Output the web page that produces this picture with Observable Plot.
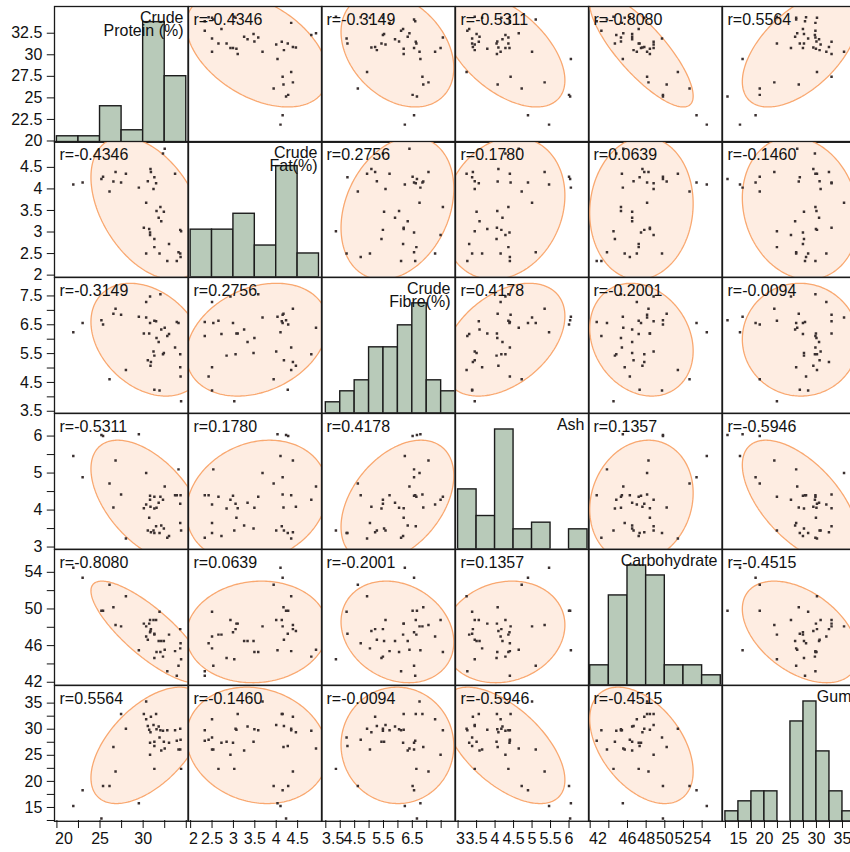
<!DOCTYPE html>
<html><head><meta charset="utf-8">
<script src="https://cdn.jsdelivr.net/npm/d3@7"></script>
<script src="https://cdn.jsdelivr.net/npm/@observablehq/plot@0.6"></script>
<style>
body{margin:0;background:#fff;}
#chart{position:relative;width:850px;height:852px;overflow:hidden;background:#fff;font-family:"Liberation Sans",Arial,sans-serif;}
#chart svg{position:absolute;overflow:visible;}
</style></head><body><div id="chart"></div>
<script>
// ---- data ----
const names = ["Crude\nProtein (%)", "Crude\nFat(%)", "Crude\nFibre(%)", "Ash", "Carbohydrate", "Gum"];

const protein = [21.9, 22.98, 25.16, 25.35, 26.1, 26.55, 26.8, 27.44, 28.0, 29.5,
  30.08, 30.35, 30.35, 30.54, 30.7, 30.8, 30.8, 30.85, 30.9, 31.2, 31.3, 31.3, 31.3, 31.5, 31.55,
  31.8, 31.9, 32.0, 32.1, 32.3, 32.4, 32.5, 32.8, 33.0, 33.7, 33.9, 34.1, 34.3, 34.34, 34.3, 34.4];
const fat = [4.10, 4.15, 4.23, 4.28, 3.94, 4.17, 4.39, 4.15, 4.35, 4.03,
  3.1, 3.68, 2.5, 4.18, 3.07, 2.99, 2.93, 4.46, 4.39, 4.0, 2.84, 4.27, 2.65, 4.13, 3.49,
  3.33, 2.5, 3.58, 3.25, 4.82, 3.47, 4.93, 2.33, 2.72, 4.35, 2.33, 2.53, 3.05, 2.42, 2.5, 3.02];
const fibre = [6.24, 6.56, 6.66, 6.51, 4.61, 6.88, 7.06, 6.85, 4.93, 6.78,
  6.2, 6.75, 7.29, 5.27, 6.2, 6.56, 7.48, 5.08, 5.21, 5.57, 5.43, 4.25, 6.64, 6.62, 6.04,
  5.9, 4.22, 7.56, 6.34, 5.48, 5.52, 6.4, 6.11, 6.18, 5.71, 6.6, 6.56, 5.48, 4.71, 5.03, 3.85];
const ash = [5.46, 4.89, 6.03, 6.0, 4.72, 4.07, 5.34, 4.42, 3.23, 6.05,
  4.05, 5.0, 4.15, 3.45, 3.79, 4.39, 4.28, 4.09, 3.4, 3.45, 4.04, 3.38, 4.36, 3.56, 4.06,
  4.2, 3.38, 4.36, 3.58, 4.28, 3.5, 4.64, 3.25, 3.3, 4.4, 4.4, 5.1, 4.17, 4.4, 3.65, 3.45];
const carb = [54.5, 53.4, 49.8, 49.8, 52.65, 50.2, 48.25, 48.1, 51.4, 45.5,
  48.4, 48.1, 47.0, 46.65, 48.4, 47.45, 48.8, 47.6, 47.8, 48.8, 44.65, 47.3, 47.2, 48.8, 45.3,
  46.5, 49.7, 45.3, 46.5, 44.8, 46.5, 45.55, 43.2, 47.2, 45.4, 42.7, 43.8, 47.8, 46.25, 45.7, 44.5];
const gum = [15.3, 18.3, 12.9, 19.1, 19.1, 26.6, 21.9, 32.9, 30.1, 15.8,
  32.9, 35.3, 31.9, 30.6, 29.9, 27.4, 25.1, 29.4, 32.4, 30.8, 27.6, 26.8, 22.4, 32.9, 30.0,
  30.5, 28.4, 29.8, 25.9, 29.7, 27.6, 26.3, 29.8, 27.4, 29.8, 27.8, 26.1, 30.1, 28.0, 26.1, 22.4];

// correlations shown in the cells, upper triangle row by row
const rUpper = [-0.4346, -0.3149, -0.5311, -0.8080, 0.5564,
  0.2756, 0.1780, 0.0639, -0.1460,
  0.4178, -0.2001, -0.0094,
  0.1357, -0.5946,
  -0.4515];

// histogram bins (edges) and bar heights (counts)
const proteinEdges = [20, 22.5, 25, 27.5, 30, 32.5, 35];
const proteinCounts = [1, 1, 6, 2, 20, 11];
const fatEdges = [2, 2.5, 3, 3.5, 4, 4.5, 5];
const fatCounts = [6, 6, 8, 4, 14, 3];
const fibreEdges = [3.5, 4, 4.5, 5, 5.5, 6, 6.5, 7, 7.5, 8];
const fibreCounts = [1, 2, 3, 6, 6, 8, 10, 3, 2];
const ashEdges = [3, 3.5, 4, 4.5, 5, 5.5, 6, 6.5];
const ashCounts = [9, 5, 18, 3, 4, 0, 3];
const carbEdges = [42, 44, 46, 48, 50, 52, 54, 56];
const carbCounts = [2, 9, 12, 11, 2, 2, 1];
const gumEdges = [12.5, 15, 17.5, 20, 22.5, 25, 27.5, 30, 32.5, 35, 37.5];
const gumCounts = [1, 2, 3, 3, 0, 10, 12, 7, 3, 1];

// axis ticks and labels
const yTicks = [
  [20, 22.5, 25, 27.5, 30, 32.5],
  [2, 2.5, 3, 3.5, 4, 4.5],
  [3.5, 4, 4.5, 5, 5.5, 6, 6.5, 7, 7.5],
  [3, 3.5, 4, 4.5, 5, 5.5, 6],
  [42, 44, 46, 48, 50, 52, 54],
  [12.5, 15, 17.5, 20, 22.5, 25, 27.5, 30, 32.5, 35]];
const yLabels = [
  [20, 22.5, 25, 27.5, 30, 32.5],
  [2, 2.5, 3, 3.5, 4, 4.5],
  [3.5, 4.5, 5.5, 6.5, 7.5],
  [3, 4, 5, 6],
  [42, 46, 50, 54],
  [15, 20, 25, 30, 35]];
const xTicks = [
  [20, 22.5, 25, 27.5, 30, 32.5, 35],
  [2, 2.5, 3, 3.5, 4, 4.5],
  [3.5, 4, 4.5, 5, 5.5, 6, 6.5, 7, 7.5],
  [3, 3.5, 4, 4.5, 5, 5.5, 6],
  [42, 44, 46, 48, 50, 52, 54],
  [12.5, 15, 17.5, 20, 22.5, 25, 27.5, 30, 32.5, 35]];
const xLabels = [
  [20, 25, 30],
  [2, 2.5, 3, 3.5, 4, 4.5],
  [3.5, 4.5, 5.5, 6.5],
  [3, 3.5, 4, 4.5, 5, 5.5, 6],
  [42, 46, 48, 50, 52, 54],
  [15, 20, 25, 30, 35]];

// ---- layout / scale settings ----
const X0 = 54.3, Y0 = 5.5, CW = 133.5, CH = 135.8, ML = 54.3, MB = 32;
const xDomains = [[19.72, 35.2], [1.95, 5.07], [3.35, 7.98], [2.93, 6.54], [41.82, 56.13], [11.94, 37.6]];
const yDomains = [[19.85, 35.6], [1.95, 5.1], [3.43, 8.14], [2.94, 6.61], [41.67, 56.49], [12.35, 38.38]];
const countDomains = [[0, 22.6], [0, 17.1], [0, 12.35], [0, 20.4], [0, 13.6], [0, 13.6]];
const ELLIPSE_LEVEL = 0.9;

const vars = [protein, fat, fibre, ash, carb, gum];
const edges = [proteinEdges, fatEdges, fibreEdges, ashEdges, carbEdges, gumEdges];
const counts = [proteinCounts, fatCounts, fibreCounts, ashCounts, carbCounts, gumCounts];
const R = Array.from({length: 6}, () => Array(6).fill(null));
{ let q = 0; for (let i = 0; i < 6; i++) for (let j = i + 1; j < 6; j++) { R[i][j] = R[j][i] = rUpper[q++]; } }

const FONT = '"Liberation Sans", Arial, sans-serif';
const STYLE = {background: "transparent", overflow: "visible", fontFamily: FONT, fontSize: "16px", color: "#111"};
const HIST = "#b8cab9", ELL_FILL = "#feede2", ELL_STROKE = "#f9a870", DOT = "#3a3030";
const chart = document.getElementById("chart");

function place(svg, left, top) {
  svg.style.position = "absolute";
  svg.style.left = left + "px";
  svg.style.top = top + "px";
  chart.appendChild(svg);
}

function ellipsePts(xs, ys, r) {
  const mx = d3.mean(xs), my = d3.mean(ys), sx = d3.deviation(xs), sy = d3.deviation(ys);
  const k = Math.sqrt(-2 * Math.log(1 - ELLIPSE_LEVEL));
  return d3.range(0, 2 * Math.PI, Math.PI / 120).map(t => ({
    x: mx + k * sx * Math.cos(t),
    y: my + k * sy * (r * Math.cos(t) + Math.sqrt(1 - r * r) * Math.sin(t))
  }));
}

// ---- cells ----
for (let i = 0; i < 6; i++) {
  for (let j = 0; j < 6; j++) {
    const marks = [];
    let ydom;
    if (i === j) {
      ydom = countDomains[i];
      const e = edges[i];
      const bins = counts[i].map((n, k) => ({x1: e[k], x2: e[k + 1], n})).filter(b => b.n > 0);
      marks.push(Plot.rect(bins, {x1: "x1", x2: "x2", y1: 0, y2: "n", fill: HIST, stroke: "#1c1c1c", strokeWidth: 1.4, clip: true}));
      marks.push(Plot.text([names[i]], {frameAnchor: "top-right", textAnchor: "end", lineAnchor: "top",
        dx: -4.5, dy: 6.5, lineHeight: 0.85, fontSize: 16, fill: "#111"}));
    } else {
      ydom = yDomains[i];
      const xs = vars[j], ys = vars[i];
      const rows = xs.map((v, k) => ({x: v, y: ys[k]}));
      marks.push(Plot.hull(ellipsePts(xs, ys, R[i][j]), {x: "x", y: "y", fill: ELL_FILL, stroke: ELL_STROKE, strokeWidth: 1.3, clip: true}));
      marks.push(Plot.dot(rows, {x: "x", y: "y", symbol: "square", r: 1.4, fill: DOT, stroke: null, clip: true}));
      marks.push(Plot.text(["r=" + R[i][j].toFixed(4)], {frameAnchor: "top-left", textAnchor: "start", lineAnchor: "top",
        dx: 5, dy: 7.5, fontSize: 16, fill: "#111"}));
    }
    marks.push(Plot.frame({stroke: "#1a1a1a", strokeWidth: 1.3}));
    const svg = Plot.plot({
      width: CW, height: CH, margin: 0,
      x: {domain: xDomains[j], axis: null},
      y: {domain: ydom, axis: null},
      style: STYLE,
      marks
    });
    place(svg, X0 + j * CW, Y0 + i * CH);
  }
}

// ---- left axes (one per row) ----
for (let i = 0; i < 6; i++) {
  const svg = Plot.plot({
    width: ML + 1, height: CH, marginLeft: ML, marginRight: 1, marginTop: 0, marginBottom: 0,
    x: {domain: [0, 1], axis: null},
    y: {domain: yDomains[i], axis: null},
    style: STYLE,
    marks: [Plot.axisY(yTicks[i], {tickSize: 7.5, tickPadding: 5, fontSize: 16, stroke: "#111", fill: "#111",
      tickFormat: v => yLabels[i].includes(v) ? String(v) : ""})]
  });
  place(svg, X0 - ML, Y0 + i * CH);
}

// ---- bottom axes (one per column) ----
const gridBottom = Y0 + 6 * CH;
for (let j = 0; j < 6; j++) {
  const [d0, d1] = xDomains[j];
  const px = v => (v - d0) / (d1 - d0) * CW;
  const textW = v => String(v).split("").reduce((s, c) => s + (c === "." ? 4.45 : 8.9), 0);
  const normal = [], shifted = [];
  for (const v of xLabels[j]) (px(v) - textW(v) / 2 < -1 ? shifted : normal).push(v);
  const marks = [
    Plot.axisX(xTicks[j], {tickSize: 8, stroke: "#111", tickFormat: () => ""}),
    Plot.text(normal, {x: d => d, text: d => String(d), frameAnchor: "bottom", lineAnchor: "top", dy: 11.8, fontSize: 16, fill: "#111"})
  ];
  for (const v of shifted) {
    marks.push(Plot.text([v], {x: d => d, text: d => String(d), frameAnchor: "bottom", lineAnchor: "top", textAnchor: "start",
      dy: 11.8, dx: 0.6 - px(v), fontSize: 16, fill: "#111"}));
  }
  const svg = Plot.plot({
    width: CW, height: MB + 1, marginLeft: 0, marginRight: 0, marginTop: 0, marginBottom: MB,
    x: {domain: xDomains[j], axis: null},
    style: STYLE,
    marks
  });
  place(svg, X0 + j * CW, gridBottom - 1);
}
</script>
</body></html>
